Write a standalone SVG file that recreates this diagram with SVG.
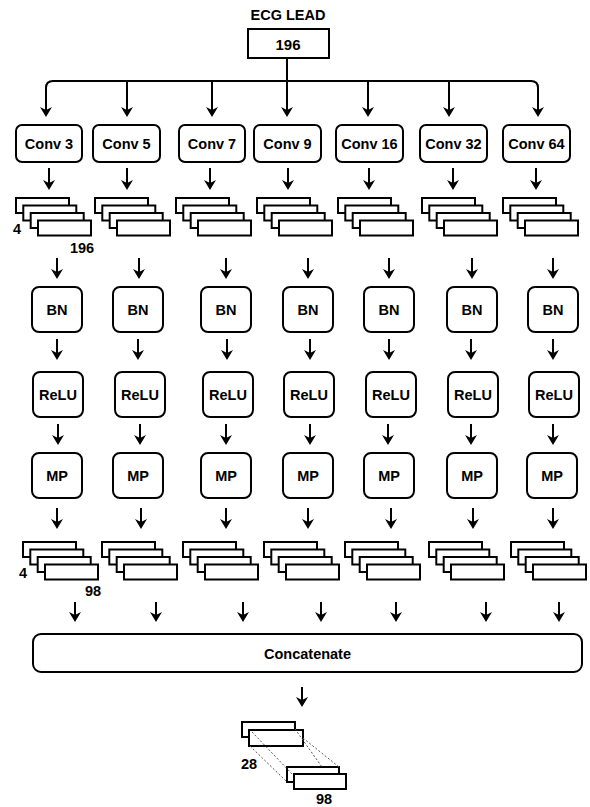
<svg xmlns="http://www.w3.org/2000/svg" width="590" height="807" viewBox="0 0 590 807">
<style>
.t{font-family:"Liberation Sans",Arial,sans-serif;font-weight:bold;font-size:14.5px;fill:#000;text-anchor:middle}
.box{fill:#fff;stroke:#000;stroke-width:2}
.sq{fill:#fff;stroke:#000;stroke-width:2}
.ln{fill:none;stroke:#000;stroke-width:2}
.dash{fill:none;stroke:#555;stroke-width:1;stroke-dasharray:2,2}
</style>
<defs>
<marker id="ah" markerUnits="userSpaceOnUse" viewBox="0 0 10 12" markerWidth="10" markerHeight="12" refX="7" refY="6" orient="auto">
<path d="M0,0 L10,6 L0,12 L3,6 Z" fill="#000"/>
</marker>
<g id="stk">
<rect class="sq" x="0" y="0" width="53" height="15"/>
<rect class="sq" x="7.3" y="7.5" width="53" height="15"/>
<rect class="sq" x="14.7" y="15" width="53" height="15"/>
<rect class="sq" x="22" y="22.5" width="53" height="15"/>
</g>
</defs>
<rect width="590" height="807" fill="#fff"/>

<g id="input">
<text class="t" x="288" y="20" font-size="14">ECG LEAD</text>
<rect class="sq" x="248" y="29" width="81" height="29"/>
<text class="t" x="288" y="49.5" style="font-size:15px">196</text>
</g>

<g id="connectors">
<path class="ln" d="M287,81 L53,81 Q46,81 46,88 L46,114" marker-end="url(#ah)"/>
<path class="ln" d="M287,81 L531,81 Q538,81 538,88 L538,114" marker-end="url(#ah)"/>
<path class="ln" d="M287,58 L287,114" marker-end="url(#ah)"/>
<path class="ln" d="M127,81 L127,114" marker-end="url(#ah)"/>
<path class="ln" d="M212,81 L212,114" marker-end="url(#ah)"/>
<path class="ln" d="M368,81 L368,114" marker-end="url(#ah)"/>
<path class="ln" d="M449,81 L449,114" marker-end="url(#ah)"/>

<path class="ln" d="M49,168 V187" marker-end="url(#ah)"/>
<path class="ln" d="M127,168 V187" marker-end="url(#ah)"/>
<path class="ln" d="M210,168 V187" marker-end="url(#ah)"/>
<path class="ln" d="M288,168 V187" marker-end="url(#ah)"/>
<path class="ln" d="M369,168 V187" marker-end="url(#ah)"/>
<path class="ln" d="M453,168 V187" marker-end="url(#ah)"/>
<path class="ln" d="M536,168 V187" marker-end="url(#ah)"/>

<path class="ln" d="M57,258 V276" marker-end="url(#ah)"/>
<path class="ln" d="M139,258 V276" marker-end="url(#ah)"/>
<path class="ln" d="M226,258 V276" marker-end="url(#ah)"/>
<path class="ln" d="M308,258 V276" marker-end="url(#ah)"/>
<path class="ln" d="M389,258 V276" marker-end="url(#ah)"/>
<path class="ln" d="M472,258 V276" marker-end="url(#ah)"/>
<path class="ln" d="M553,258 V276" marker-end="url(#ah)"/>

<path class="ln" d="M57,339 V357" marker-end="url(#ah)"/>
<path class="ln" d="M138,339 V357" marker-end="url(#ah)"/>
<path class="ln" d="M227,339 V357" marker-end="url(#ah)"/>
<path class="ln" d="M310,339 V357" marker-end="url(#ah)"/>
<path class="ln" d="M389,339 V357" marker-end="url(#ah)"/>
<path class="ln" d="M471,339 V357" marker-end="url(#ah)"/>
<path class="ln" d="M553,339 V357" marker-end="url(#ah)"/>

<path class="ln" d="M58,424 V442" marker-end="url(#ah)"/>
<path class="ln" d="M140,424 V442" marker-end="url(#ah)"/>
<path class="ln" d="M226,424 V442" marker-end="url(#ah)"/>
<path class="ln" d="M310,424 V442" marker-end="url(#ah)"/>
<path class="ln" d="M388,424 V442" marker-end="url(#ah)"/>
<path class="ln" d="M471,424 V442" marker-end="url(#ah)"/>
<path class="ln" d="M553,424 V442" marker-end="url(#ah)"/>

<path class="ln" d="M57,508 V526" marker-end="url(#ah)"/>
<path class="ln" d="M141,508 V526" marker-end="url(#ah)"/>
<path class="ln" d="M226,508 V526" marker-end="url(#ah)"/>
<path class="ln" d="M308,508 V526" marker-end="url(#ah)"/>
<path class="ln" d="M391,508 V526" marker-end="url(#ah)"/>
<path class="ln" d="M473,508 V526" marker-end="url(#ah)"/>
<path class="ln" d="M553,508 V526" marker-end="url(#ah)"/>

<path class="ln" d="M75,602 V619" marker-end="url(#ah)"/>
<path class="ln" d="M156,602 V619" marker-end="url(#ah)"/>
<path class="ln" d="M243,602 V619" marker-end="url(#ah)"/>
<path class="ln" d="M321,602 V619" marker-end="url(#ah)"/>
<path class="ln" d="M396,602 V619" marker-end="url(#ah)"/>
<path class="ln" d="M486,602 V619" marker-end="url(#ah)"/>
<path class="ln" d="M559,602 V619" marker-end="url(#ah)"/>

<path class="ln" d="M302,687 V704" marker-end="url(#ah)"/>
</g>

<g id="conv3"><rect class="box" x="16" y="125" width="66" height="37" rx="6"/><text class="t" x="49" y="149">Conv 3</text></g>
<g id="conv5"><rect class="box" x="93" y="125" width="67" height="37" rx="6"/><text class="t" x="126.5" y="149">Conv 5</text></g>
<g id="conv7"><rect class="box" x="179" y="125" width="66" height="37" rx="6"/><text class="t" x="212" y="149">Conv 7</text></g>
<g id="conv9"><rect class="box" x="254" y="125" width="67" height="37" rx="6"/><text class="t" x="287.5" y="149">Conv 9</text></g>
<g id="conv16"><rect class="box" x="336" y="125" width="67" height="37" rx="6"/><text class="t" x="369.5" y="149">Conv 16</text></g>
<g id="conv32"><rect class="box" x="420" y="125" width="67" height="37" rx="6"/><text class="t" x="453.5" y="149">Conv 32</text></g>
<g id="conv64"><rect class="box" x="503" y="125" width="67" height="37" rx="6"/><text class="t" x="536.5" y="149">Conv 64</text></g>

<g id="fmap1">
<use href="#stk" x="16" y="198"/>
<use href="#stk" x="95" y="198"/>
<use href="#stk" x="176" y="198"/>
<use href="#stk" x="257" y="198"/>
<use href="#stk" x="338" y="198"/>
<use href="#stk" x="422" y="198"/>
<use href="#stk" x="503" y="198"/>
<text class="t" x="17" y="234">4</text>
<text class="t" x="82" y="253">196</text>
</g>

<g id="bn3"><rect class="box" x="32" y="287" width="50" height="45" rx="7"/><text class="t" x="57" y="315">BN</text></g>
<g id="bn5"><rect class="box" x="113" y="287" width="50" height="45" rx="7"/><text class="t" x="138" y="315">BN</text></g>
<g id="bn7"><rect class="box" x="201" y="287" width="50" height="45" rx="7"/><text class="t" x="226" y="315">BN</text></g>
<g id="bn9"><rect class="box" x="283" y="287" width="50" height="45" rx="7"/><text class="t" x="308" y="315">BN</text></g>
<g id="bn16"><rect class="box" x="364" y="287" width="50" height="45" rx="7"/><text class="t" x="389" y="315">BN</text></g>
<g id="bn32"><rect class="box" x="447" y="287" width="50" height="45" rx="7"/><text class="t" x="472" y="315">BN</text></g>
<g id="bn64"><rect class="box" x="528" y="287" width="50" height="45" rx="7"/><text class="t" x="553" y="315">BN</text></g>

<g id="relu3"><rect class="box" x="33" y="372" width="50" height="45" rx="7"/><text class="t" x="58" y="400">ReLU</text></g>
<g id="relu5"><rect class="box" x="115" y="372" width="50" height="45" rx="7"/><text class="t" x="140" y="400">ReLU</text></g>
<g id="relu7"><rect class="box" x="203" y="372" width="50" height="45" rx="7"/><text class="t" x="228" y="400">ReLU</text></g>
<g id="relu9"><rect class="box" x="284" y="372" width="50" height="45" rx="7"/><text class="t" x="309" y="400">ReLU</text></g>
<g id="relu16"><rect class="box" x="366" y="372" width="50" height="45" rx="7"/><text class="t" x="391" y="400">ReLU</text></g>
<g id="relu32"><rect class="box" x="448" y="372" width="50" height="45" rx="7"/><text class="t" x="473" y="400">ReLU</text></g>
<g id="relu64"><rect class="box" x="529" y="372" width="50" height="45" rx="7"/><text class="t" x="554" y="400">ReLU</text></g>

<g id="mp3"><rect class="box" x="32" y="453" width="50" height="45" rx="7"/><text class="t" x="57" y="481">MP</text></g>
<g id="mp5"><rect class="box" x="113" y="453" width="50" height="45" rx="7"/><text class="t" x="138" y="481">MP</text></g>
<g id="mp7"><rect class="box" x="201" y="453" width="50" height="45" rx="7"/><text class="t" x="226" y="481">MP</text></g>
<g id="mp9"><rect class="box" x="283" y="453" width="50" height="45" rx="7"/><text class="t" x="308" y="481">MP</text></g>
<g id="mp16"><rect class="box" x="364" y="453" width="50" height="45" rx="7"/><text class="t" x="389" y="481">MP</text></g>
<g id="mp32"><rect class="box" x="447" y="453" width="50" height="45" rx="7"/><text class="t" x="472" y="481">MP</text></g>
<g id="mp64"><rect class="box" x="527" y="453" width="50" height="45" rx="7"/><text class="t" x="552" y="481">MP</text></g>

<g id="fmap2">
<use href="#stk" x="23" y="542"/>
<use href="#stk" x="102" y="542"/>
<use href="#stk" x="183" y="542"/>
<use href="#stk" x="264" y="542"/>
<use href="#stk" x="345" y="542"/>
<use href="#stk" x="429" y="542"/>
<use href="#stk" x="511" y="542"/>
<text class="t" x="23" y="578">4</text>
<text class="t" x="93" y="596">98</text>
</g>

<g id="concat">
<rect class="box" x="33" y="634" width="549" height="38" rx="8"/>
<text class="t" x="307.5" y="659">Concatenate</text>
</g>

<g id="output">
<rect class="sq" x="242" y="722" width="53" height="15"/>
<rect class="sq" x="249" y="730" width="54" height="16"/>
<rect class="sq" x="287" y="767" width="52" height="15"/>
<rect class="sq" x="294" y="774" width="52" height="15"/>
<line class="dash" x1="252" y1="732" x2="293" y2="775"/>
<line class="dash" x1="250" y1="746" x2="287" y2="782"/>
<line class="dash" x1="295" y1="729" x2="322" y2="767"/>
<line class="dash" x1="303" y1="738" x2="339" y2="767"/>
<text class="t" x="249" y="769">28</text>
<text class="t" x="324" y="804">98</text>
</g>
</svg>
